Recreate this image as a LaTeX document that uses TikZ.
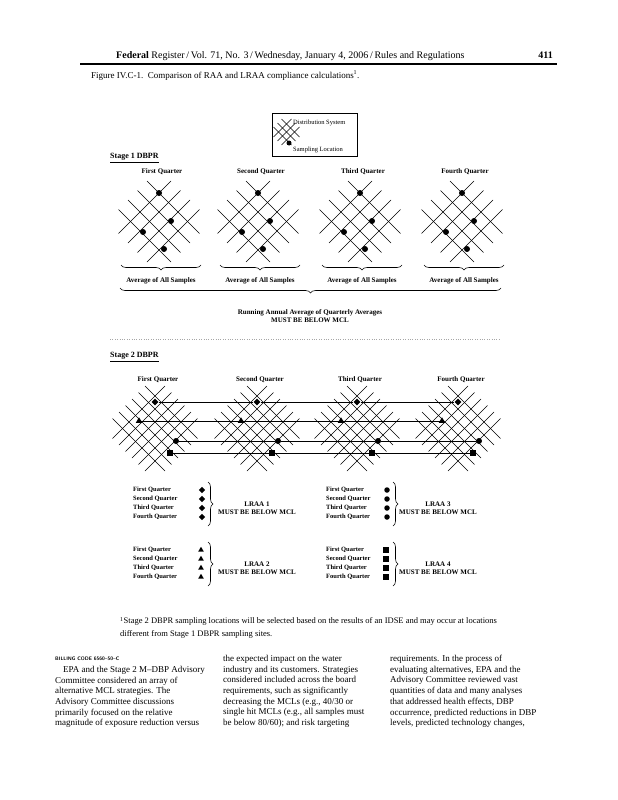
\documentclass[tikz,border=0pt]{standalone}
\usepackage{fontspec}
\setmainfont{Liberation Serif}
\usepackage{tikz}
\usetikzlibrary{positioning,shapes.geometric,decorations.pathreplacing}

\newcommand{\lattice}[5]{%
  \foreach \k in {0,...,#3} {
    \draw[net] ({#1+#4*(\k-#3)/2-#5},{#2+#4*(\k+#3)/2+#5}) -- ({#1+#4*\k/2+#5},{#2+#4*\k/2-#5});
    \draw[net] ({#1-#4*\k/2-#5},{#2+#4*\k/2-#5}) -- ({#1+#4*(#3-\k)/2+#5},{#2+#4*(#3+\k)/2+#5});
  }}

\begin{document}
\begin{tikzpicture}[x=1pt, y=-1pt,
  net/.style={line width=0.45pt},
  lbl/.style={font=\fontsize{7}{8.5}\selectfont\bfseries, inner sep=0pt, align=center},
  small/.style={font=\fontsize{6.5}{7}\selectfont, inner sep=0pt},
  key/.style={font=\fontsize{6.5}{7}\selectfont\bfseries, inner sep=0pt},
  dot/.style={circle, fill, inner sep=0pt, minimum size=6pt},
  dia/.style={diamond, fill, inner sep=0pt, minimum size=7pt},
  tri/.style={regular polygon, regular polygon sides=3, fill, inner sep=0pt, minimum size=7.5pt},
  sq/.style={rectangle, fill, inner sep=0pt, minimum size=6pt},
  brc/.style={decorate, decoration={brace, amplitude=5pt}, line width=0.6pt},
  brcd/.style={decorate, decoration={brace, mirror, amplitude=5pt}, line width=0.6pt},
  body/.style={font=\fontsize{9}{10.7}\selectfont, align=left, anchor=north west, inner sep=0pt}
]
\useasboundingbox (0,0) rectangle (618,800);

\node[font=\fontsize{10}{12}\selectfont, anchor=base west, inner sep=0pt] (hdr) at (116,59)
  {\textbf{Federal} Register\,/\,Vol. 71, No. 3\,/\,Wednesday, January 4, 2006\,/\,Rules and Regulations};
\node[font=\fontsize{10}{12}\selectfont\bfseries, anchor=base east, inner sep=0pt] (page) at (553,59) {411};
\draw[line width=1.6pt] (80,64) -- (557,64);
\node[font=\fontsize{9}{11}\selectfont, anchor=base west, inner sep=0pt] (cap) at (91,78)
  {Figure IV.C-1.\ \ Comparison of RAA and LRAA compliance calculations\textsuperscript{1}.};

\draw (272,113) rectangle (357,156);
\lattice{286.5}{124}{2}{8}{5}
\node[dot, minimum size=5pt] (key) at (289,143) {};
\node[small, anchor=west] (keysys) at (293,123) {Distribution System};
\node[small, anchor=west] (keyloc) at (293,150) {Sampling Location};

\node[lbl, font=\fontsize{8}{9}\selectfont\bfseries, anchor=west] (s1) at (110,158) {\underline{Stage 1 DBPR}};
\foreach \x/\q [count=\i] in {159/First, 258/Second, 360/Third, 462/Fourth} {
  \lattice{\x}{193}{3}{19}{12}
  \node[lbl] (ta\i) at (\x+3,172) {\q\ Quarter};
  \node[dot] (pa\i) at (\x,193) {};
  \node[dot] (pb\i) at (\x+12,221) {};
  \node[dot] (pc\i) at (\x-16,232) {};
  \node[dot] (pd\i) at (\x+5,249) {};
  \draw[brcd] (\x-38,265) -- (\x+42,265);
  \node[lbl] (avg\i) at (\x+2,281) {Average of All Samples};
}
\draw[brcd] (120,288) -- (501,288);
\node[lbl] (raa) at (310,316) {Running Annual Average of Quarterly Averages\\MUST BE BELOW MCL};
\draw[dotted, gray!70] (110,339) -- (500,339);

\node[lbl, font=\fontsize{8}{9}\selectfont\bfseries, anchor=west] (s2) at (110,357) {\underline{Stage 2 DBPR}};
\foreach \x/\q [count=\i] in {155/First, 257/Second, 357/Third, 458/Fourth} {
  \lattice{\x}{396}{5}{13}{10}
  \node[lbl] (tb\i) at (\x+3,380) {\q\ Quarter};
  \node[dia] (md\i) at (\x,402) {};
  \node[tri] (mt\i) at (\x-16,421) {};
  \node[dot] (mc\i) at (\x+21,441) {};
  \node[sq] (ms\i) at (\x+15,453) {};
}
\draw (md1) -- (md2) -- (md3) -- (md4);
\draw (mt1) -- (mt2) -- (mt3) -- (mt4);
\draw (mc1) -- (mc2) -- (mc3) -- (mc4);
\draw (ms1) -- (ms2) -- (ms3) -- (ms4);

\foreach \q [count=\i] in {First, Second, Third, Fourth} {
  \node[key, anchor=west] (ka\i) at (133,481+9*\i) {\q\ Quarter};
  \node[dia, minimum size=6.5pt] (ja\i) at (202,481+9*\i) {};
  \node[key, anchor=west] (kb\i) at (133,541+9*\i) {\q\ Quarter};
  \node[tri, minimum size=6.5pt] (jb\i) at (201,541+9*\i) {};
  \node[key, anchor=west] (kc\i) at (326,481+9*\i) {\q\ Quarter};
  \node[dot, minimum size=5.5pt] (jc\i) at (387,481+9*\i) {};
  \node[key, anchor=west] (kd\i) at (326,541+9*\i) {\q\ Quarter};
  \node[sq, minimum size=5.5pt] (jd\i) at (386,541+9*\i) {};
}
\draw[brc] (208,482) -- (208,526);
\draw[brc] (208,542) -- (208,586);
\draw[brc] (393,482) -- (393,526);
\draw[brc] (393,542) -- (393,586);
\node[lbl] (lraa1) at (257,508) {LRAA 1\\MUST BE BELOW MCL};
\node[lbl] (lraa2) at (257,568) {LRAA 2\\MUST BE BELOW MCL};
\node[lbl] (lraa3) at (438,508) {LRAA 3\\MUST BE BELOW MCL};
\node[lbl] (lraa4) at (438,568) {LRAA 4\\MUST BE BELOW MCL};

\node[font=\fontsize{8.5}{12.5}\selectfont, align=left, anchor=north west, inner sep=0pt] (note) at (120,617)
  {\textsuperscript{1}Stage 2 DBPR sampling locations will be selected based on the results of an IDSE and may occur at locations\\
   different from Stage 1 DBPR sampling sites.};

\node[font=\fontsize{5}{6}\selectfont\sffamily\bfseries, anchor=west, inner sep=0pt] (bill) at (55,659) {BILLING CODE 6560--50--C};
\node[body] (colA) at (55,666)
  {\hspace*{8pt}EPA and the Stage 2 M--DBP Advisory\\
   Committee considered an array of\\
   alternative MCL strategies. The\\
   Advisory Committee discussions\\
   primarily focused on the relative\\
   magnitude of exposure reduction versus};
\node[body] (colB) at (223,655)
  {the expected impact on the water\\
   industry and its customers. Strategies\\
   considered included across the board\\
   requirements, such as significantly\\
   decreasing the MCLs (e.g., 40/30 or\\
   single hit MCLs (e.g., all samples must\\
   be below 80/60); and risk targeting};
\node[body] (colC) at (390,655)
  {requirements. In the process of\\
   evaluating alternatives, EPA and the\\
   Advisory Committee reviewed vast\\
   quantities of data and many analyses\\
   that addressed health effects, DBP\\
   occurrence, predicted reductions in DBP\\
   levels, predicted technology changes,};
\end{tikzpicture}
\end{document}
